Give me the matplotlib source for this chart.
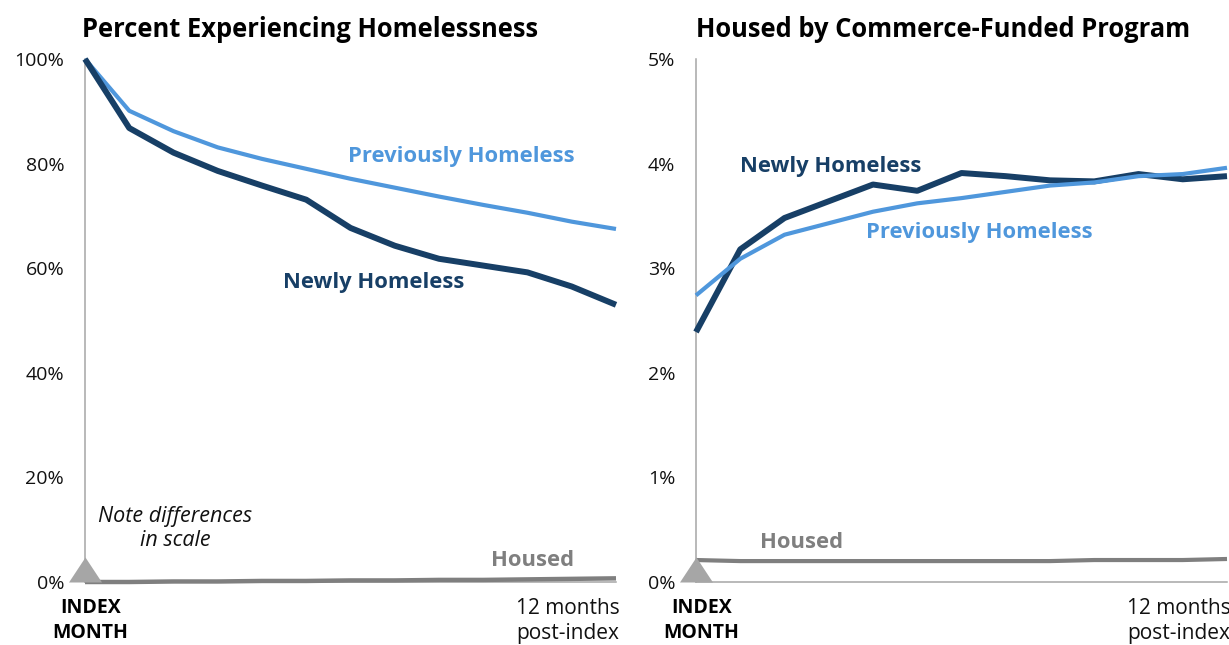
import matplotlib
matplotlib.use('Agg')
import matplotlib.pyplot as plt
import numpy as np

plt.rcParams['font.family'] = ['Open Sans', 'DejaVu Sans']

# months after index month
months = list(range(13))

# left panel: percent experiencing homelessness
newly_pct = [100, 86.8, 82.1, 78.6, 75.8, 73.1, 67.7, 64.3, 61.8, 60.5, 59.2, 56.5, 53.0]
prev_pct = [100, 90.1, 86.2, 83.1, 80.9, 79.0, 77.1, 75.4, 73.7, 72.1, 70.6, 68.9, 67.5]
housed_pct = [0.0, 0.0, 0.1, 0.1, 0.2, 0.2, 0.3, 0.3, 0.4, 0.4, 0.5, 0.6, 0.7]

# right panel: housed by commerce-funded program
newly_cf = [2.39, 3.18, 3.48, 3.64, 3.80, 3.74, 3.91, 3.88, 3.84, 3.83, 3.90, 3.85, 3.88]
prev_cf = [2.74, 3.09, 3.32, 3.43, 3.54, 3.62, 3.67, 3.73, 3.79, 3.82, 3.88, 3.90, 3.96]
housed_cf = [0.21, 0.20, 0.20, 0.20, 0.20, 0.20, 0.20, 0.20, 0.20, 0.21, 0.21, 0.21, 0.22]

left_ticks = [0, 20, 40, 60, 80, 100]
right_ticks = [0, 1, 2, 3, 4, 5]

navy = '#173F66'
light = '#4F97DC'
grey = '#7F7F7F'
axis_grey = '#A6A6A6'

W, H = 1229, 645
fig = plt.figure(figsize=(W / 100, H / 100), dpi=100)

def px_axes(x0, x1, y_top, y_bot):
    return fig.add_axes([x0 / W, 1 - y_bot / H, (x1 - x0) / W, (y_bot - y_top) / H])

ax1 = px_axes(85, 616, 59, 582)
ax2 = px_axes(696, 1227, 59, 582)

tri = [(-0.66, 0), (0.66, 0), (0, 1)]

def style(ax, ticks, fmt, ymax):
    ax.set_xlim(0, 12)
    ax.set_ylim(0, ymax)
    for s in ['top', 'right']:
        ax.spines[s].set_visible(False)
    for s in ['left', 'bottom']:
        ax.spines[s].set_color(axis_grey)
        ax.spines[s].set_linewidth(1.1)
    ax.set_xticks([])
    ax.set_yticks(ticks)
    ax.set_yticklabels([fmt(t) for t in ticks])
    ax.tick_params(axis='y', length=0, pad=15, labelsize=14, labelcolor='#111111')
    ax.plot([0], [0], marker=tri, markersize=36, color=axis_grey, clip_on=False, zorder=5,
            markeredgewidth=0)

style(ax1, left_ticks, lambda t: f"{t}%", 100)
style(ax2, right_ticks, lambda t: f"{t}%", 5)

# lines
ax1.plot(months, housed_pct, color=grey, lw=3.2, clip_on=False, solid_capstyle='butt', zorder=3)
ax1.plot(months, prev_pct, color=light, lw=3.0, clip_on=False, solid_capstyle='butt', zorder=3)
ax1.plot(months, newly_pct, color=navy, lw=4.3, clip_on=False, solid_capstyle='butt', zorder=4)

ax2.plot(months, housed_cf, color=grey, lw=3.0, clip_on=False, solid_capstyle='butt', zorder=3)
ax2.plot(months, newly_cf, color=navy, lw=4.3, clip_on=False, solid_capstyle='butt', zorder=3)
ax2.plot(months, prev_cf, color=light, lw=3.0, clip_on=False, solid_capstyle='butt', zorder=4)

# titles
ax1.set_title('Percent Experiencing Homelessness', loc='left', fontsize=18.4, fontweight='bold',
              pad=16, x=-0.005)
ax2.set_title('Housed by Commerce-Funded Program', loc='left', fontsize=18.4, fontweight='bold',
              pad=16, x=0.0)

# series labels
lab = dict(fontsize=15.8, fontweight='bold', ha='left', va='center')
ax1.text(5.94, 81.3, 'Previously Homeless', color=light, **lab)
ax1.text(4.47, 57.2, 'Newly Homeless', color=navy, **lab)
ax1.text(9.18, 4.2, 'Housed', color=grey, **lab)
ax1.text(2.03, 10.3, 'Note differences\nin scale', fontsize=15.5, style='italic', ha='center',
         va='center', color='#111111', linespacing=1.2)

ax2.text(0.99, 3.97, 'Newly Homeless', color=navy, **lab)
ax2.text(3.84, 3.34, 'Previously Homeless', color=light, **lab)
ax2.text(1.45, 0.38, 'Housed', color=grey, **lab)

# x-axis end labels
for ax, ymin in [(ax1, -3.1), (ax2, -0.155)]:
    ax.text(0.12, ymin, 'INDEX\nMONTH', fontsize=14, fontweight='bold', ha='center', va='top',
            linespacing=1.35, clip_on=False)
    ax.text(12.08, ymin, '12 months\npost-index', fontsize=15, ha='right', va='top',
            linespacing=1.25, color='#111111', clip_on=False)

fig.savefig('out.png', dpi=100, facecolor='white')
